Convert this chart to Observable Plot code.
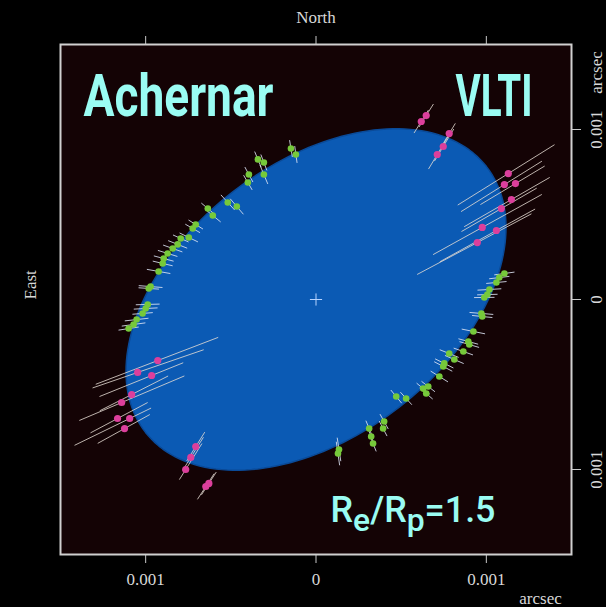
<!DOCTYPE html>
<html><head><meta charset="utf-8">
<script src="https://cdn.jsdelivr.net/npm/d3@7"></script>
<script src="https://cdn.jsdelivr.net/npm/@observablehq/plot@0.6"></script>
<style>html,body{margin:0;padding:0;background:#000;} svg{display:block}</style>
</head><body><div id="chart"></div>
<script>
// ---- data (milli-arcseconds; x to the right, y up) ----
const xTicks = [-1, 0, 1];
const yTicks = [-1, 0, 1];
const tickLabels = ["0.001", "0", "0.001"];

// fitted ellipse: semi-major, semi-minor (mas), orientation (deg)
const ellA = 1.27, ellB = 0.80, ellAngle = 38;

// green points (short radial error bars)
const greenX = [-0.147,-0.118,-0.341,-0.306,-0.394,-0.306,-0.400,-0.518,-0.465,-0.635,-0.606,-0.706,-0.724,-0.747,-0.794,-0.812,-0.841,-0.871,-0.894,-0.900,-0.924,-0.971,-0.982,-0.988,-1.000,-1.018,-1.053,-1.071,-1.100,
  1.106,1.076,1.059,1.018,1.006,0.988,0.971,0.976,0.924,0.894,0.900,0.865,0.812,0.782,0.753,0.747,0.724,0.659,0.629,0.647,0.529,0.471,0.400,0.394,0.312,0.324,0.335,0.135,0.129];
const greenY = [0.888,0.853,0.824,0.806,0.735,0.735,0.688,0.571,0.547,0.535,0.494,0.441,0.418,0.365,0.359,0.324,0.300,0.271,0.241,0.212,0.165,0.076,0.065,-0.029,-0.053,-0.082,-0.118,-0.147,-0.171,
  0.153,0.129,0.100,0.059,0.029,0.012,-0.082,-0.100,-0.188,-0.247,-0.265,-0.306,-0.353,-0.318,-0.376,-0.394,-0.453,-0.512,-0.524,-0.553,-0.582,-0.571,-0.718,-0.759,-0.759,-0.806,-0.847,-0.882,-0.906];
const greenErr = [0.05,0.05,0.05,0.05,0.05,0.06,0.05,0.06,0.06,0.05,0.06,0.05,0.05,0.06,0.05,0.06,0.06,0.06,0.06,0.06,0.07,0.07,0.06,0.07,0.07,0.06,0.07,0.07,0.06,
  0.06,0.06,0.06,0.07,0.06,0.06,0.07,0.06,0.07,0.06,0.06,0.06,0.06,0.06,0.06,0.06,0.06,0.05,0.05,0.05,0.05,0.05,0.05,0.05,0.05,0.05,0.05,0.07,0.07];

// magenta points (long error bars along baseline direction)
const pinkX = [0.618,0.647,0.782,0.747,0.712, 1.129,1.106,1.171,1.147,1.088,0.976,1.059,0.947,
  -0.929,-1.047,-0.965,-1.082,-1.141,-1.165,-1.094,-1.124, -0.706,-0.735,-0.765,-0.629,-0.647];
const pinkY = [1.047,1.082,0.976,0.900,0.853, 0.741,0.676,0.682,0.588,0.535,0.424,0.406,0.335,
  -0.359,-0.429,-0.447,-0.559,-0.606,-0.700,-0.700,-0.759, -0.865,-0.929,-1.000,-1.082,-1.100];
const pinkAngle = [58,58,59,59,59, 32,32,31,30,30,29,29,28, 21,19,22,27,23,28,26,29, 58,58,58,57,57];
const pinkLo = [0.08,0.08,0.10,0.10,0.10, 0.35,0.30,0.24,0.32,0.27,0.33,0.38,0.40, 0.39,0.28,0.33,0.21,0.27,0.18,0.36,0.18, 0.10,0.09,0.07,0.08,0.09];
const pinkHi = [0.08,0.08,0.07,0.12,0.14, 0.32,0.26,0.20,0.26,0.24,0.40,0.26,0.36, 0.38,0.41,0.20,0.24,0.40,0.20,0.14,0.17, 0.10,0.14,0.18,0.08,0.09];

// ---- build tables ----
const rad = Math.PI / 180;
const ellipse = d3.range(0, 361, 2).map(t => {
  const c = Math.cos(t * rad), s = Math.sin(t * rad), ca = Math.cos(ellAngle * rad), sa = Math.sin(ellAngle * rad);
  return {x: ellA * c * ca - ellB * s * sa, y: ellA * c * sa + ellB * s * ca};
});
const green = greenX.map((x, i) => {
  const y = greenY[i], e = greenErr[i], a = Math.atan2(y, x);
  return {x, y, x1: x - e * Math.cos(a), y1: y - e * Math.sin(a), x2: x + e * Math.cos(a), y2: y + e * Math.sin(a)};
});
const pink = pinkX.map((x, i) => {
  const y = pinkY[i], a = pinkAngle[i] * rad;
  return {x, y, x1: x - pinkLo[i] * Math.cos(a), y1: y - pinkLo[i] * Math.sin(a), x2: x + pinkHi[i] * Math.cos(a), y2: y + pinkHi[i] * Math.sin(a)};
});
const fmt = d => tickLabels[xTicks.indexOf(d)];

const serif = "'Liberation Serif', 'DejaVu Serif', serif";
const sans = "Roboto, 'DejaVu Sans', sans-serif";
const cyan = "#9afcf3";
const gray = "#d8d8d8";

const chart = Plot.plot({
  width: 606, height: 607,
  marginLeft: 60, marginRight: 35, marginTop: 44, marginBottom: 53,
  x: {domain: [-1.5, 1.5], axis: null},
  y: {domain: [-1.5, 1.5], axis: null},
  style: {background: "#000", color: "#d0d0d0", fontFamily: serif, fontSize: "17px"},
  marks: [
    Plot.frame({fill: "#140305"}),
    Plot.line(ellipse, {x: "x", y: "y", fill: "#0b5ab4", stroke: "#0a4a98", strokeWidth: 1.5, curve: "linear-closed"}),
    Plot.dot([{x: 0, y: 0}], {x: "x", y: "y", symbol: "plus", r: 4, stroke: "#b8d4ff", strokeWidth: 1}),
    Plot.link(pink, {x1: "x1", y1: "y1", x2: "x2", y2: "y2", stroke: "#e6ddd5", strokeOpacity: 0.8, strokeWidth: 1}),
    Plot.link(green, {x1: "x1", y1: "y1", x2: "x2", y2: "y2", stroke: "#dde4f4", strokeOpacity: 0.85, strokeWidth: 1}),
    Plot.dot(green, {x: "x", y: "y", r: 3.3, fill: "#76c93a"}),
    Plot.dot(pink, {x: "x", y: "y", r: 3.6, fill: "#dc3f9c"}),
    Plot.axisX(xTicks, {anchor: "top", tickSize: 9, tickFormat: () => "", label: null, stroke: "#c8c8c8"}),
    Plot.axisX(xTicks, {anchor: "bottom", tickSize: 9, tickPadding: 9, tickFormat: fmt, label: null, stroke: "#c8c8c8", fill: gray, fontSize: 17, fontFamily: serif}),
    Plot.axisY(yTicks, {anchor: "right", tickSize: 9, tickFormat: () => "", label: null, stroke: "#c8c8c8"}),
    Plot.text(yTicks, {y: d => d, text: fmt, frameAnchor: "right", dx: 25, rotate: -90, lineAnchor: "middle", textAnchor: "middle", fill: gray, fontSize: 17, fontFamily: serif}),
    Plot.text(["North"], {frameAnchor: "top", dy: -27, lineAnchor: "middle", fill: gray, fontSize: 17, fontFamily: serif}),
    Plot.text(["East"], {frameAnchor: "left", dx: -30, rotate: -90, lineAnchor: "middle", fill: gray, fontSize: 17, fontFamily: serif}),
    Plot.text(["arcsec"], {frameAnchor: "bottom-right", dx: -31, dy: 44, lineAnchor: "middle", textAnchor: "middle", fill: gray, fontSize: 17, fontFamily: serif}),
    Plot.text(["arcsec"], {frameAnchor: "top-right", dx: 25, dy: 28, rotate: -90, lineAnchor: "middle", textAnchor: "middle", fill: gray, fontSize: 17, fontFamily: serif}),
    Plot.text(["Achernar"], {frameAnchor: "top-left", dx: 23, dy: 52, lineAnchor: "middle", textAnchor: "start", fill: cyan, fontSize: 60, fontWeight: 700, fontFamily: sans}),
    Plot.text(["VLTI"], {frameAnchor: "top-right", dx: -39, dy: 52, lineAnchor: "middle", textAnchor: "end", fill: cyan, fontSize: 60, fontWeight: 700, fontFamily: sans}),
    Plot.text(["Re/Rp=1.5"], {frameAnchor: "bottom-left", dx: 270, dy: -44, lineAnchor: "middle", textAnchor: "start", fill: cyan, fontSize: 36, fontWeight: 500, fontFamily: sans}),
    Plot.frame({stroke: "#d0d0d0", strokeWidth: 2})
  ]
});

chart.querySelectorAll("text").forEach(t => {
  const s = t.textContent;
  if (s === "Achernar") { t.setAttribute("textLength", 190); t.setAttribute("lengthAdjust", "spacingAndGlyphs"); }
  if (s === "VLTI") { t.setAttribute("textLength", 77); t.setAttribute("lengthAdjust", "spacingAndGlyphs"); }
  if (s === "Re/Rp=1.5") {
    t.textContent = "";
    const parts = [["R", 0, null], ["e", 9, 32], ["/R", -9, null], ["p", 9, 32], ["=1.5", -9, null]];
    for (const [txt, dy, fs] of parts) {
      const sp = document.createElementNS("http://www.w3.org/2000/svg", "tspan");
      sp.textContent = txt;
      if (dy) sp.setAttribute("dy", dy);
      if (fs) sp.setAttribute("font-size", fs);
      t.appendChild(sp);
    }
    t.setAttribute("textLength", 165); t.setAttribute("lengthAdjust", "spacingAndGlyphs");
  }
});
document.getElementById("chart").appendChild(chart);
</script></body></html>
